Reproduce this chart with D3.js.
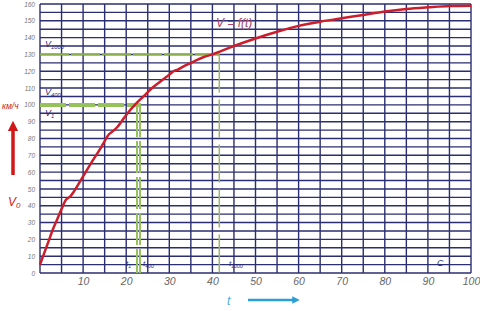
<!DOCTYPE html>
<html>
<head>
<meta charset="utf-8">
<script src="https://cdn.jsdelivr.net/npm/d3@7"></script>
<style>
  body { margin: 0; background: #fff; }
  svg { display: block; }
  text { font-family: "Liberation Sans", Arial, sans-serif; font-style: italic; }
</style>
</head>
<body>
<svg id="chart" width="480" height="311"></svg>
<script>
// time t and speed V
const tVals = [0, 1, 2, 3, 4, 5, 6, 7, 8, 10, 12, 14, 15, 16, 17, 18, 20, 22, 24, 26, 28, 30, 31, 32, 33, 35, 38, 40, 42, 45, 50, 55, 60, 65, 70, 75, 80, 85, 90, 95, 100];
const vVals = [5, 12, 19, 26, 32, 38, 43.5, 45.5, 49, 57.5, 66, 74, 78.5, 82.5, 84.5, 87, 94, 100, 105, 110, 114, 118, 120, 121, 122.5, 125, 128.5, 130, 132, 135, 139.5, 143.5, 147, 149.5, 151.5, 153.5, 155.5, 157, 158, 158.8, 159];

const xTicks = [10, 20, 30, 40, 50, 60, 70, 80, 90, 100];
const yTicks = [0, 10, 20, 30, 40, 50, 60, 70, 80, 90, 100, 110, 120, 130, 140, 150, 160];

// reference speeds / times (green dashed guides)
const vRef = [130, 100];
const tRef = [41.6, 22.5, 23.2];

const svg = d3.select('#chart');
const x = d3.scaleLinear().domain([0, 100]).range([40, 471]);
const y = d3.scaleLinear().domain([0, 160]).range([273, 4]);
const gridColor = '#2b2e70';

// grid
const grid = svg.append('g');
grid.selectAll('line.v')
  .data(d3.range(0, 101, 5))
  .enter().append('line')
  .attr('x1', d => x(d)).attr('x2', d => x(d))
  .attr('y1', y(0)).attr('y2', y(160))
  .attr('stroke', gridColor).attr('stroke-width', 1.4);
grid.selectAll('line.h')
  .data(d3.range(0, 161, 5))
  .enter().append('line')
  .attr('x1', x(0)).attr('x2', x(100))
  .attr('y1', d => y(d)).attr('y2', d => y(d))
  .attr('stroke', gridColor).attr('stroke-width', 1.4);

// axes labels
const xAxis = svg.append('g')
  .attr('transform', `translate(0,${y(0) + 3})`)
  .call(d3.axisBottom(x).tickValues(xTicks).tickSize(0).tickPadding(2));
xAxis.select('.domain').remove();
xAxis.selectAll('text').attr('fill', '#666').style('font-size', '10.5px').style('font-family', '"Liberation Sans", Arial, sans-serif').style('font-style', 'italic');

const yAxis = svg.append('g')
  .attr('transform', `translate(${x(0) - 5},0)`)
  .call(d3.axisLeft(y).tickValues(yTicks).tickSize(0).tickPadding(0));
yAxis.select('.domain').remove();
yAxis.selectAll('text').attr('fill', '#777').style('font-size', '6.5px').style('font-family', '"Liberation Sans", Arial, sans-serif').style('font-style', 'italic');

// green guides
const green = '#95c25a';
// V1000 / t1000
svg.append('line')
  .attr('x1', x(0)).attr('x2', x(tRef[0]))
  .attr('y1', y(vRef[0])).attr('y2', y(vRef[0]))
  .attr('stroke', '#8aae4c').attr('stroke-width', 2.2)
  .attr('stroke-dasharray', '29 2');
svg.append('line')
  .attr('x1', x(tRef[0])).attr('x2', x(tRef[0]))
  .attr('y1', y(vRef[0])).attr('y2', y(0))
  .attr('stroke', '#9ab860').attr('stroke-width', 1.5)
  .attr('stroke-dasharray', '38 7');
// V400, V1 / t1, t400
svg.append('line')
  .attr('x1', x(0)).attr('x2', x(tRef[2]) + 1)
  .attr('y1', y(vRef[1])).attr('y2', y(vRef[1]))
  .attr('stroke', green).attr('stroke-width', 4)
  .attr('stroke-dasharray', '26 3');
[tRef[1], tRef[2]].forEach(t => {
  svg.append('line')
    .attr('x1', x(t)).attr('x2', x(t))
    .attr('y1', y(vRef[1])).attr('y2', y(0))
    .attr('stroke', green).attr('stroke-width', 2)
    .attr('stroke-dasharray', '32 4');
});

// curve
const line = d3.line()
  .x((d, i) => x(tVals[i]))
  .y(d => y(d))
  .curve(d3.curveMonotoneX);
svg.append('path')
  .attr('d', line(vVals))
  .attr('fill', 'none')
  .attr('stroke', '#cc1d2b')
  .attr('stroke-width', 2.5);

// annotations
const navy = '#2a2a80';
function sub(xp, yp, main, s, size) {
  const t = svg.append('text').attr('x', xp).attr('y', yp)
    .attr('fill', navy).style('font-size', size + 'px');
  t.append('tspan').text(main);
  t.append('tspan').attr('dy', 2).style('font-size', (size * 0.65) + 'px').text(s);
}
sub(45, 47, 'V', '1000', 9);
sub(45, 95, 'V', '400', 9);
sub(45, 116, 'V', '1', 9);
sub(126, 266, 't', '1', 8);
sub(143, 266, 't', '400', 8);
sub(229, 266, 't', '1000', 8);
svg.append('text').attr('x', 437).attr('y', 266).attr('fill', navy).style('font-size', '9px').text('C');

svg.append('text').attr('x', 216).attr('y', 27)
  .attr('fill', '#a8406c').style('font-size', '12px').text('V = f(t)');

// y label and arrow
svg.append('text').attr('x', 2).attr('y', 109)
  .attr('fill', '#d02020').style('font-size', '8.5px').text('км/ч');
svg.append('defs').html(
  '<marker id="ar" viewBox="0 0 10 10" refX="5" refY="5" markerWidth="3" markerHeight="3" orient="auto"><path d="M0,0L10,5L0,10z" fill="#d01818"/></marker>' +
  '<marker id="ab" viewBox="0 0 10 10" refX="5" refY="5" markerWidth="3" markerHeight="3" orient="auto"><path d="M0,0L10,5L0,10z" fill="#2a9fd4"/></marker>');
svg.append('line').attr('x1', 13).attr('x2', 13).attr('y1', 175).attr('y2', 126)
  .attr('stroke', '#d01818').attr('stroke-width', 3.5).attr('marker-end', 'url(#ar)');
const v0 = svg.append('text').attr('x', 8).attr('y', 206).attr('fill', '#d02020').style('font-size', '12px');
v0.append('tspan').text('V');
v0.append('tspan').attr('dy', 2).style('font-size', '8px').text('0');

// x label and arrow
svg.append('text').attr('x', 227).attr('y', 305)
  .attr('fill', '#4aaad8').style('font-size', '12px').text('t');
svg.append('line').attr('x1', 248).attr('x2', 296).attr('y1', 300).attr('y2', 300)
  .attr('stroke', '#2a9fd4').attr('stroke-width', 2.5).attr('marker-end', 'url(#ab)');
</script>
</body>
</html>
